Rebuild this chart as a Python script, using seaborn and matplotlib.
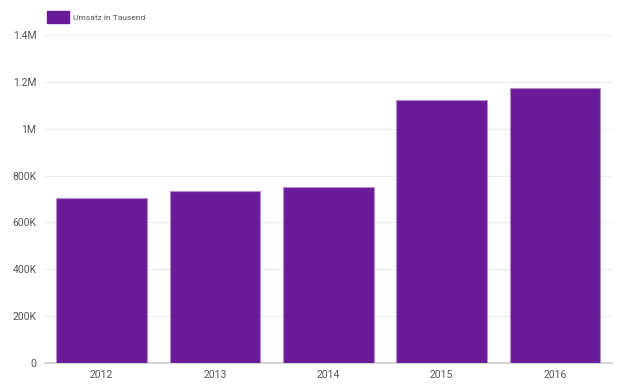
import numpy as np
import pandas as pd
import matplotlib
matplotlib.use("Agg")
import matplotlib.pyplot as plt
import seaborn as sns
from matplotlib.ticker import FuncFormatter
from matplotlib.patches import Patch

years = ["2012", "2013", "2014", "2015", "2016"]
umsatz = [704000, 734000, 752000, 1122000, 1174000]
series_name = "Umsatz in Tausend"
y_ticks = [0, 200000, 400000, 600000, 800000, 1000000, 1200000, 1400000]

df = pd.DataFrame({"year": years, "umsatz": umsatz})

sns.set_style("white")
plt.rcParams["font.family"] = ["Roboto", "DejaVu Sans"]

fig = plt.figure(figsize=(6.23, 3.91), dpi=100)
ax = fig.add_axes([0.072, 0.0716, 0.910, 0.8388])

bar_color = "#6a1b9a"
sns.barplot(data=df, x="year", y="umsatz", color=bar_color, saturation=1,
            width=0.8, edgecolor="#b48cc8", linewidth=0.8, ax=ax, zorder=3)

def fmt(v, pos):
    if v == 0:
        return "0"
    if v >= 1000000:
        s = f"{v / 1000000:.1f}".rstrip("0").rstrip(".")
        return s + "M"
    return f"{int(v / 1000)}K"

ax.set_ylim(0, 1400000)
ax.set_xlim(-0.5, 4.5)
ax.set_yticks(y_ticks)
ax.yaxis.set_major_formatter(FuncFormatter(fmt))
ax.grid(axis="y", color="#ebebeb", linewidth=0.8, zorder=0)
ax.set_axisbelow(True)
for s in ["top", "right", "left"]:
    ax.spines[s].set_visible(False)
ax.spines["bottom"].set_color("#cccccc")
ax.spines["bottom"].set_linewidth(1.2)
ax.tick_params(axis="both", length=0, labelsize=7.5, labelcolor="#555555", pad=5)
ax.tick_params(axis="y", pad=6)
ax.set_xlabel("")
ax.set_ylabel("")

leg = fig.legend(handles=[Patch(facecolor=bar_color, edgecolor=bar_color, label=series_name)],
                 loc="upper left", bbox_to_anchor=(0.064, 0.99), frameon=False,
                 fontsize=6, handlelength=2.6, handleheight=1.7, handletextpad=0.45,
                 labelcolor="#555555")

fig.savefig("out.png", dpi=100)
